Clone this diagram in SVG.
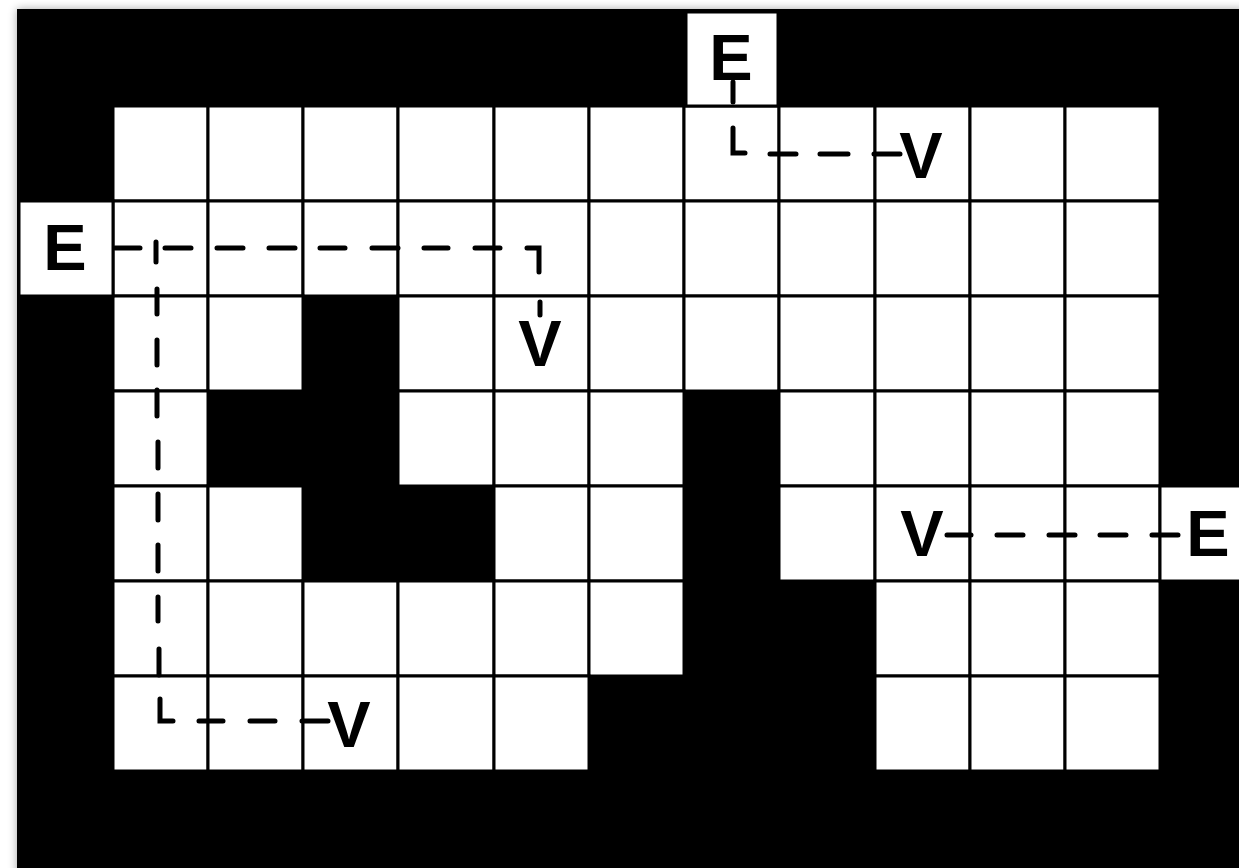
<svg xmlns="http://www.w3.org/2000/svg" width="1239" height="868" viewBox="0 0 1239 868">
<defs>
<filter id="shadow" x="-5%" y="-5%" width="110%" height="110%">
<feGaussianBlur stdDeviation="5"/>
</filter>
<style>
.cell{fill:#fff;stroke:#000;stroke-width:3}
.lbl{font-family:"Liberation Sans",Arial,sans-serif;font-weight:bold;font-size:65px;fill:#000;text-anchor:middle}
.dash{fill:none;stroke:#000;stroke-width:5;stroke-linecap:round;stroke-linejoin:miter}
</style>
</defs>
<rect width="1239" height="868" fill="#fff"/>
<rect x="17" y="9" width="1240" height="880" fill="#000" opacity="0.35" filter="url(#shadow)"/>
<rect x="17" y="9" width="1222" height="859" fill="#000"/>
<g id="grid">
<!-- row 0 -->
<rect class="cell" x="113" y="106" width="95" height="95"/><rect class="cell" x="208" y="106" width="95" height="95"/><rect class="cell" x="303" y="106" width="95" height="95"/><rect class="cell" x="398" y="106" width="96" height="95"/><rect class="cell" x="494" y="106" width="95" height="95"/><rect class="cell" x="589" y="106" width="95" height="95"/><rect class="cell" x="684" y="106" width="95" height="95"/><rect class="cell" x="779" y="106" width="96" height="95"/><rect class="cell" x="875" y="106" width="95" height="95"/><rect class="cell" x="970" y="106" width="95" height="95"/><rect class="cell" x="1065" y="106" width="95" height="95"/>
<!-- row 1 -->
<rect class="cell" x="113" y="201" width="95" height="95"/><rect class="cell" x="208" y="201" width="95" height="95"/><rect class="cell" x="303" y="201" width="95" height="95"/><rect class="cell" x="398" y="201" width="96" height="95"/><rect class="cell" x="494" y="201" width="95" height="95"/><rect class="cell" x="589" y="201" width="95" height="95"/><rect class="cell" x="684" y="201" width="95" height="95"/><rect class="cell" x="779" y="201" width="96" height="95"/><rect class="cell" x="875" y="201" width="95" height="95"/><rect class="cell" x="970" y="201" width="95" height="95"/><rect class="cell" x="1065" y="201" width="95" height="95"/>
<!-- row 2 -->
<rect class="cell" x="113" y="296" width="95" height="95"/><rect class="cell" x="208" y="296" width="95" height="95"/><rect class="cell" x="398" y="296" width="96" height="95"/><rect class="cell" x="494" y="296" width="95" height="95"/><rect class="cell" x="589" y="296" width="95" height="95"/><rect class="cell" x="684" y="296" width="95" height="95"/><rect class="cell" x="779" y="296" width="96" height="95"/><rect class="cell" x="875" y="296" width="95" height="95"/><rect class="cell" x="970" y="296" width="95" height="95"/><rect class="cell" x="1065" y="296" width="95" height="95"/>
<!-- row 3 -->
<rect class="cell" x="113" y="391" width="95" height="95"/><rect class="cell" x="398" y="391" width="96" height="95"/><rect class="cell" x="494" y="391" width="95" height="95"/><rect class="cell" x="589" y="391" width="95" height="95"/><rect class="cell" x="779" y="391" width="96" height="95"/><rect class="cell" x="875" y="391" width="95" height="95"/><rect class="cell" x="970" y="391" width="95" height="95"/><rect class="cell" x="1065" y="391" width="95" height="95"/>
<!-- row 4 -->
<rect class="cell" x="113" y="486" width="95" height="95"/><rect class="cell" x="208" y="486" width="95" height="95"/><rect class="cell" x="494" y="486" width="95" height="95"/><rect class="cell" x="589" y="486" width="95" height="95"/><rect class="cell" x="779" y="486" width="96" height="95"/><rect class="cell" x="875" y="486" width="95" height="95"/><rect class="cell" x="970" y="486" width="95" height="95"/><rect class="cell" x="1065" y="486" width="95" height="95"/>
<!-- row 5 -->
<rect class="cell" x="113" y="581" width="95" height="95"/><rect class="cell" x="208" y="581" width="95" height="95"/><rect class="cell" x="303" y="581" width="95" height="95"/><rect class="cell" x="398" y="581" width="96" height="95"/><rect class="cell" x="494" y="581" width="95" height="95"/><rect class="cell" x="589" y="581" width="95" height="95"/><rect class="cell" x="875" y="581" width="95" height="95"/><rect class="cell" x="970" y="581" width="95" height="95"/><rect class="cell" x="1065" y="581" width="95" height="95"/>
<!-- row 6 -->
<rect class="cell" x="113" y="676" width="95" height="95"/><rect class="cell" x="208" y="676" width="95" height="95"/><rect class="cell" x="303" y="676" width="95" height="95"/><rect class="cell" x="398" y="676" width="96" height="95"/><rect class="cell" x="494" y="676" width="95" height="95"/><rect class="cell" x="875" y="676" width="95" height="95"/><rect class="cell" x="970" y="676" width="95" height="95"/><rect class="cell" x="1065" y="676" width="95" height="95"/>
<!-- entrance cells -->
<rect class="cell" x="686" y="12" width="92" height="94"/>
<rect class="cell" x="19" y="201" width="94" height="95"/>
<rect class="cell" x="1160" y="486" width="82" height="95"/>
</g>
<g id="connectors">
<path class="dash" d="M733,82V102 M733,128V153H745 M770,154H796 M820,154H848 M874,154H900"/>
<path class="dash" d="M115,248H140 M165,248H191 M217,248H243 M269,248H295 M320,248H345 M372,248H398 M424,248H448 M475,248H500 M527,248H539V272 M540,302V315"/>
<path class="dash" d="M156,242V262 M157,289V314 M157,340V365 M157,390V416 M158,442V468 M158,494V520 M158,545V571 M158,597V621 M159,649V675 M160,699V721H173 M199,721H223 M250,721H275 M302,721H328"/>
<path class="dash" d="M947,535H971 M997,535H1023 M1049,535H1075 M1100,535H1126 M1152,535H1178"/>
</g>
<g id="node-E-top"><text class="lbl" x="731" y="80">E</text></g>
<g id="node-E-left"><text class="lbl" x="65" y="270">E</text></g>
<g id="node-E-right"><text class="lbl" x="1208" y="556">E</text></g>
<g id="node-V-top"><text class="lbl" x="921" y="178">V</text></g>
<g id="node-V-mid"><text class="lbl" x="540" y="366">V</text></g>
<g id="node-V-right"><text class="lbl" x="922" y="556">V</text></g>
<g id="node-V-bottom"><text class="lbl" x="349" y="747">V</text></g>
</svg>
